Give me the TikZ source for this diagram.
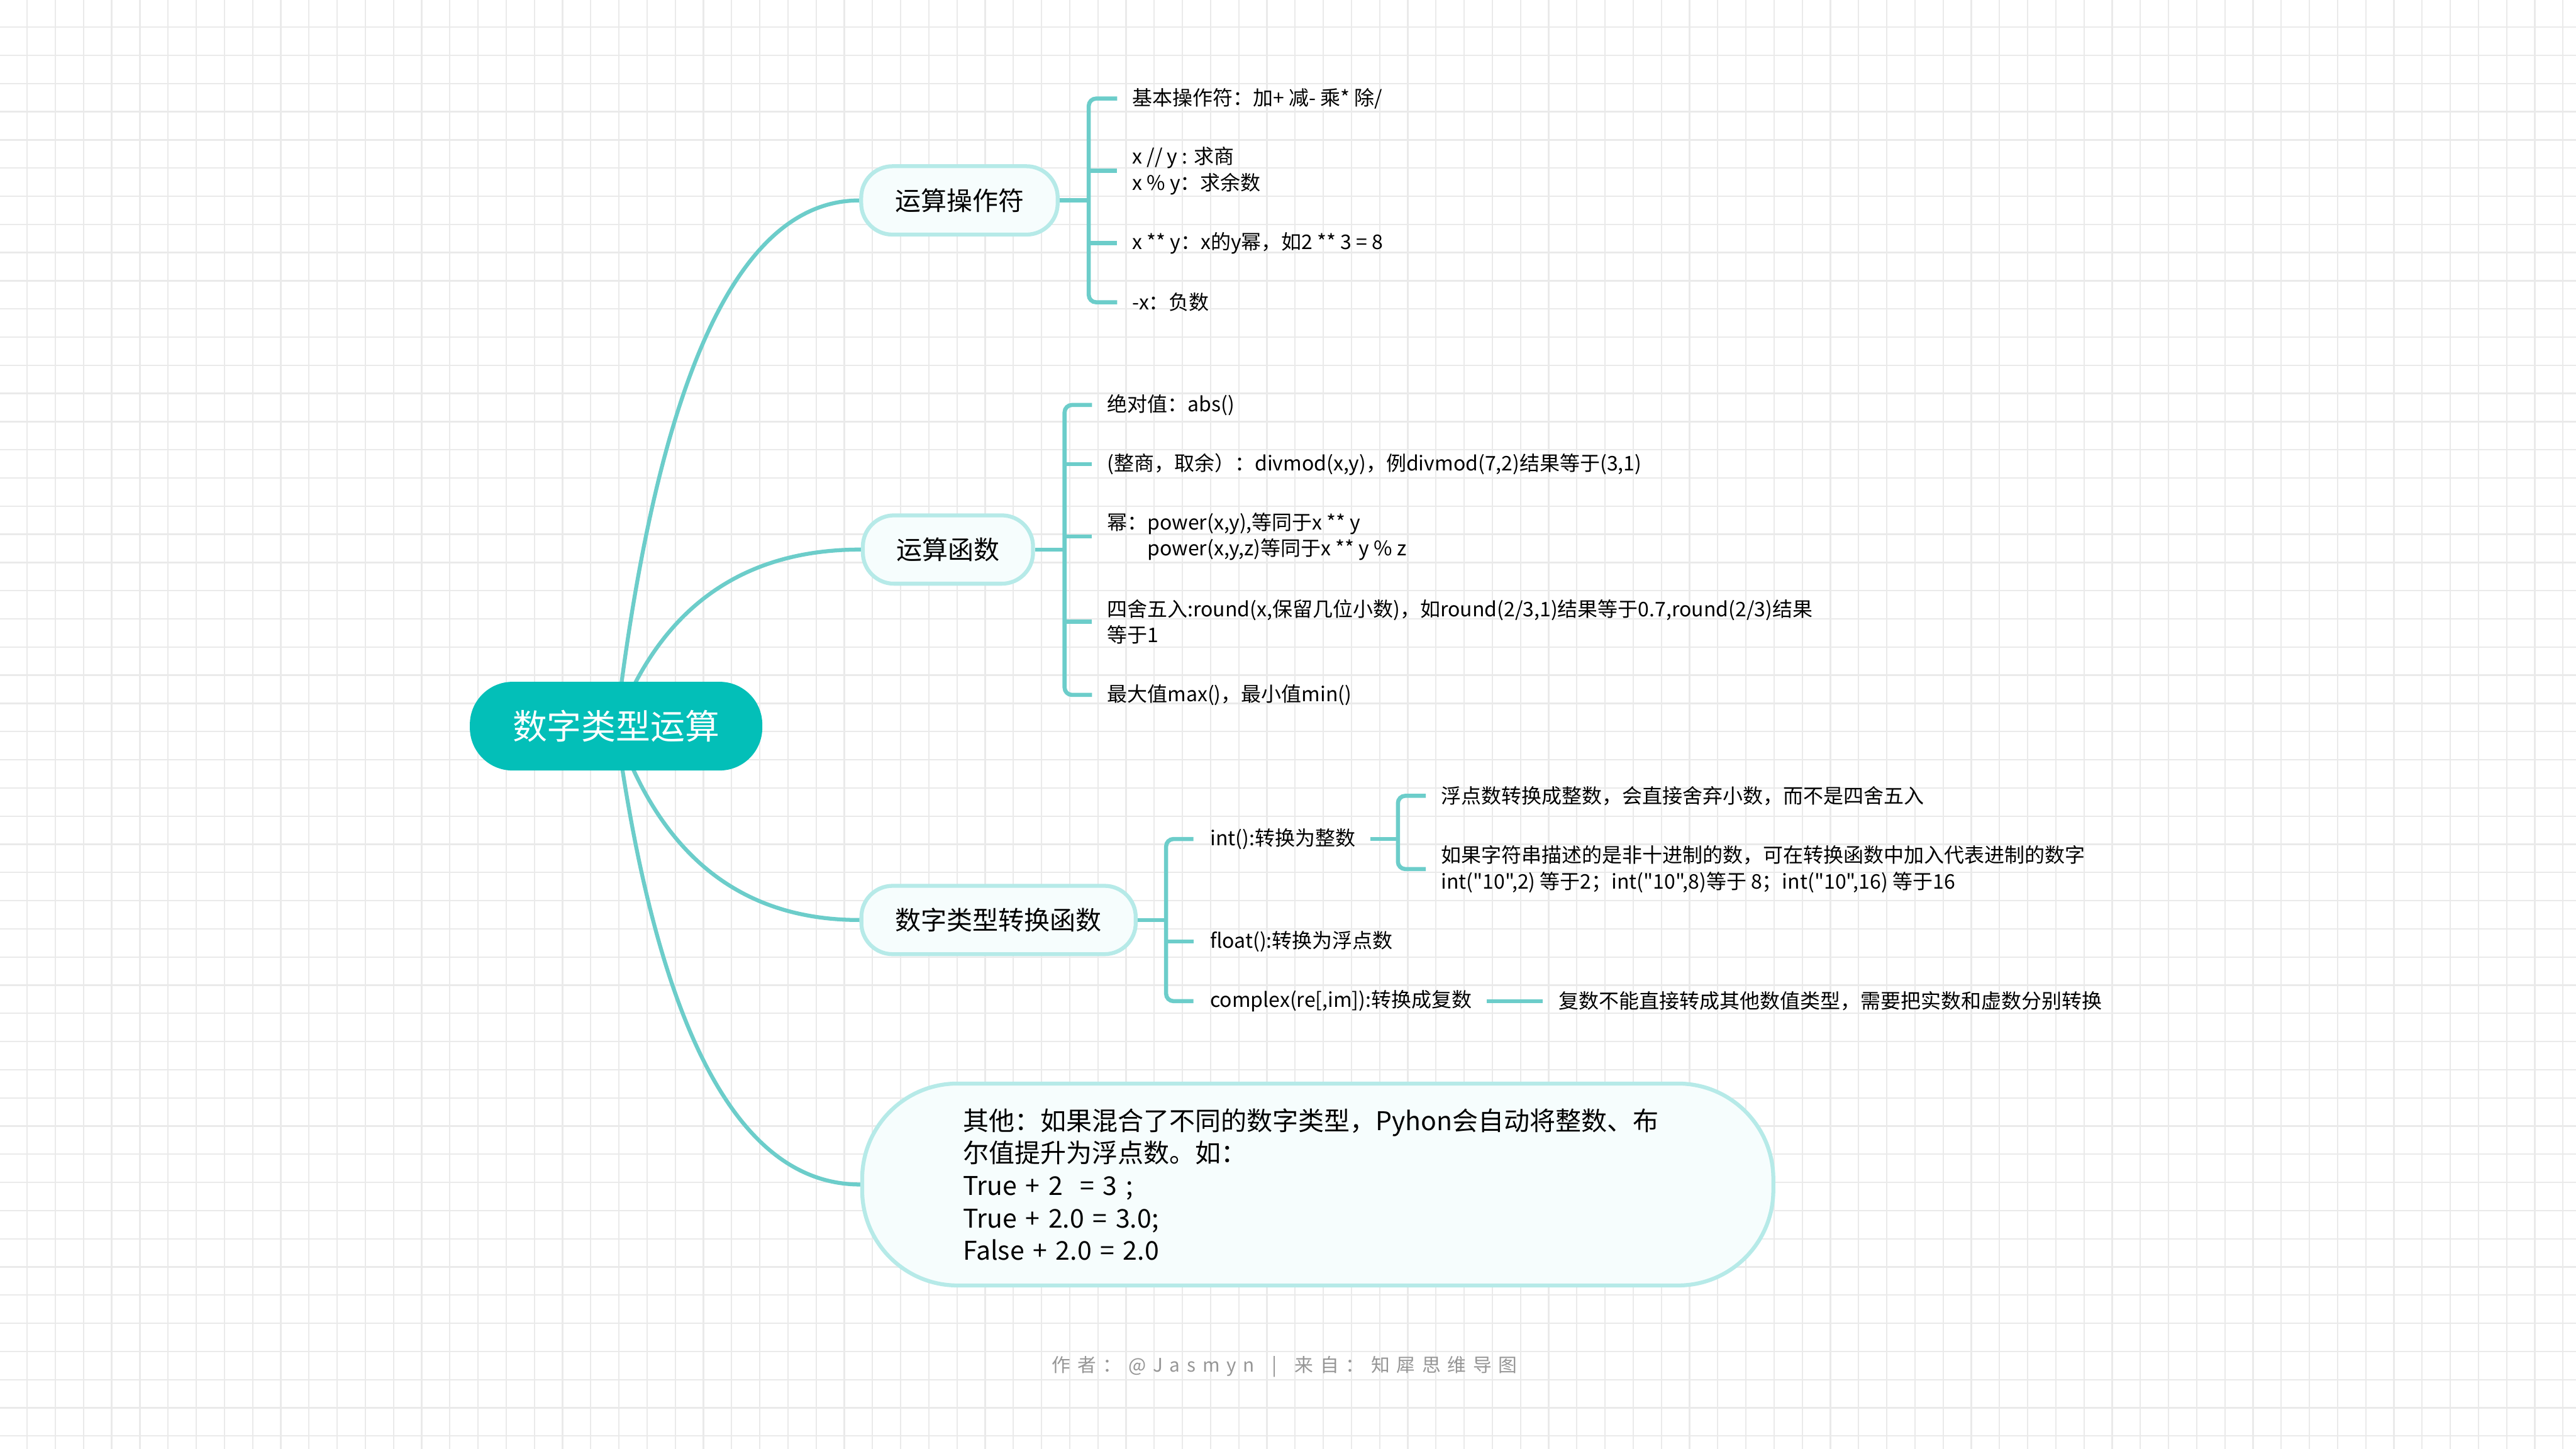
\documentclass[tikz,border=0pt]{standalone}
\usepackage{fontspec}
\setmainfont{Noto Sans CJK SC}[Ligatures=TeXOff]
\usetikzlibrary{calc}
\definecolor{rootc}{RGB}{3,191,184}
\definecolor{linec}{RGB}{108,205,202}
\definecolor{bordc}{RGB}{182,234,232}
\definecolor{fillc}{RGB}{246,253,253}
\definecolor{gridc}{RGB}{234,234,234}
\definecolor{footc}{RGB}{150,150,150}
\pgfdeclarelayer{bg}
\pgfdeclarelayer{edges}
\pgfsetlayers{bg,edges,main}
\newcommand{\lsp}{\kern4.1pt}
\begin{document}
\begin{tikzpicture}[x=1pt,y=-1pt,
  mline/.style={draw=linec,line width=2.4pt,line cap=round},
  bline/.style={draw=linec,line width=2.5pt},
  rootnode/.style={fill=rootc,text=white,rounded corners=26pt,minimum width=178pt,minimum height=54pt,inner sep=0pt,font=\fontsize{21}{25}\selectfont},
  brnode/.style={draw=bordc,fill=fillc,line width=2.4pt,rounded corners=19pt,minimum height=41.6pt,inner sep=0pt,font=\fontsize{15.7}{19.8}\selectfont},
  item/.style={anchor=west,inner sep=0pt,align=left,font=\fontsize{12.25}{16}\selectfont},
  foot/.style={inner sep=0pt,text=footc,font=\fontsize{11.4}{14}\selectfont}]

\useasboundingbox (0,0) rectangle (1568,882);

\begin{pgfonlayer}{bg}
  \fill[white] (0,0) rectangle (1568,882);
  \foreach \i in {0,...,91} \draw[gridc,line width=0.85pt] (16.54+17.15*\i,0) -- (16.54+17.15*\i,882);
  \foreach \j in {0,...,51} \draw[gridc,line width=0.85pt] (0,16.54+17.15*\j) -- (1568,16.54+17.15*\j);
\end{pgfonlayer}

% root and branches
\node[rootnode] (root) at (375,442) {数字类型运算};
\node[brnode,minimum width=119.6pt] (n1) at (584,122) {运算操作符};
\node[brnode,minimum width=103.6pt] (n2) at (577,334.5) {运算函数};
\node[brnode,minimum width=167pt] (n3) at (607.8,560) {数字类型转换函数};
\node[brnode,minimum width=554.6pt,minimum height=122.9pt,rounded corners=58pt,text width=432pt,align=left] (n4) at (802.1,721)
  {其他：如果混合了不同的数字类型，Pyhon会自动将整数、布\\尔值提升为浮点数。如：\\True + 2\ \ = 3 ;\\True + 2.0 = 3.0;\\False + 2.0 = 2.0};

% main curves
\coordinate (q1) at ($(root.center |- n1.west)+(38,0)$);
\coordinate (q2) at ($(root.center |- n2.west)+(40,0)$);
\coordinate (q3) at ($(root.center |- n3.west)+(40,0)$);
\coordinate (q4) at ($(root.center |- n4.west)+(38,0)$);
\begin{pgfonlayer}{edges}
  \draw[mline] (root.center) .. controls ($(root.center)!0.6667!(q1)$) and ($(n1.west)!0.6667!(q1)$) .. (n1.west);
  \draw[mline] (root.center) .. controls ($(root.center)!0.6667!(q2)$) and ($(n2.west)!0.6667!(q2)$) .. (n2.west);
  \draw[mline] (root.center) .. controls ($(root.center)!0.6667!(q3)$) and ($(n3.west)!0.6667!(q3)$) .. (n3.west);
  \draw[mline] (root.center) .. controls ($(root.center)!0.6667!(q4)$) and ($(n4.west)!0.6667!(q4)$) .. (n4.west);
\end{pgfonlayer}

% group 1
\node[item] (o1) at (689,60) {基本操作符：加+ 减- 乘* 除/};
\node[item] (o2) at (689,104) {x // y : 求商\\x \% y：求余数};
\node[item] (o3) at (689,148) {x ** y：x的y幂，如2 ** 3 = 8};
\node[item] (o4) at (689,184) {-x：负数};
\coordinate (s1) at (662.7,122);
\draw[bline] (n1.east) -- (s1);
\draw[bline,rounded corners=4.5pt] ([xshift=-9pt]o1.west) -| (s1) |- ([xshift=-9pt]o4.west);
\draw[bline] (s1 |- o2.west) -- ([xshift=-9pt]o2.west);
\draw[bline] (s1 |- o3.west) -- ([xshift=-9pt]o3.west);

% group 2
\node[item] (f1) at (673.7,246.5) {绝对值：abs()};
\node[item] (f2) at (673.7,282.6) {(整商，取余）：divmod(x,y)，例divmod(7,2)结果等于(3,1)};
\node[item] (f3) at (673.7,326.6) {幂：power(x,y),等同于x ** y\\\phantom{幂：}power(x,y,z)等同于x ** y \% z};
\node[item] (f4) at (673.7,378.5) {四舍五入:round(x,保留几位小数)，如round(2/3,1)结果等于0.7,round(2/3)结果\\等于1};
\node[item] (f5) at (673.7,423) {最大值max()，最小值min()};
\coordinate (s2) at (648,334.5);
\draw[bline] (n2.east) -- (s2);
\draw[bline,rounded corners=4.5pt] ([xshift=-9pt]f1.west) -| (s2) |- ([xshift=-9pt]f5.west);
\draw[bline] (s2 |- f2.west) -- ([xshift=-9pt]f2.west);
\draw[bline] (s2 |- f3.west) -- ([xshift=-9pt]f3.west);
\draw[bline] (s2 |- f4.west) -- ([xshift=-9pt]f4.west);

% group 3
\node[item] (i1) at (736.4,510.7) {int():转换为整数};
\node[item] (i2) at (736.4,573) {float():转换为浮点数};
\node[item] (i3) at (736.4,609.4) {complex(re[,im]):转换成复数};
\coordinate (s3) at (709.8,560);
\draw[bline] (n3.east) -- (s3);
\draw[bline,rounded corners=4.5pt] ([xshift=-10pt]i1.west) -| (s3) |- ([xshift=-10pt]i3.west);
\draw[bline] (s3 |- i2.west) -- ([xshift=-10pt]i2.west);

% int() sub-group
\coordinate (s4) at ($(i1.east)+(25.7,0)$);
\node[item] (j1) at ($(s4)+(26,-26.3)$) {浮点数转换成整数，会直接舍弃小数，而不是四舍五入};
\node[item] (j2) at ($(s4)+(26,18.3)$) {如果字符串描述的是非十进制的数，可在转换函数中加入代表进制的数字\\int("10",2) 等于2；int("10",8)等于 8；int("10",16) 等于16};
\draw[bline] ([xshift=9pt]i1.east) -- (s4);
\draw[bline,rounded corners=4.5pt] ([xshift=-9pt]j1.west) -| (s4) |- ([xshift=-9pt]j2.west);

% complex() extension
\node[item] (k1) at ($(i3.east)+(52.4,0)$) {复数不能直接转成其他数值类型，需要把实数和虚数分别转换};
\draw[bline] ([xshift=9pt]i3.east) -- ([xshift=-9.5pt]k1.west);

% footer
\node[foot] (ft) at (782,832) {作\lsp 者\lsp ：\lsp @\lsp J\lsp a\lsp s\lsp m\lsp y\lsp n\lsp\ \lsp|\lsp\ \lsp 来\lsp 自\lsp ：\lsp 知\lsp 犀\lsp 思\lsp 维\lsp 导\lsp 图};
\end{tikzpicture}
\end{document}
